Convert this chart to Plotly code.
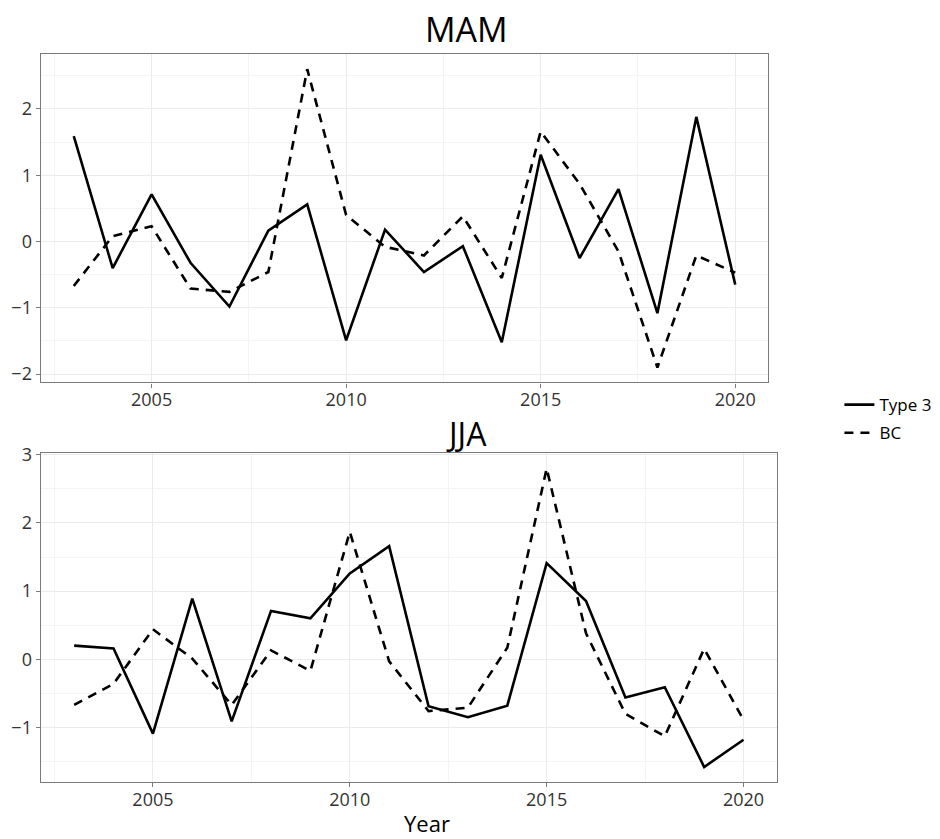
import plotly.graph_objects as go

years = list(range(2003, 2021))
mam_type3 = [1.59, -0.40, 0.71, -0.32, -0.98, 0.165, 0.56, -1.49, 0.18, -0.46,
             -0.07, -1.52, 1.31, -0.25, 0.79, -1.08, 1.88, -0.65]
mam_bc = [-0.67, 0.08, 0.23, -0.71, -0.76, -0.46, 2.60, 0.40, -0.08, -0.21,
          0.38, -0.55, 1.66, 0.87, -0.15, -1.90, -0.21, -0.47]
jja_type3 = [0.20, 0.16, -1.09, 0.89, -0.91, 0.71, 0.60, 1.26, 1.66, -0.69,
             -0.85, -0.68, 1.41, 0.855, -0.56, -0.41, -1.58, -1.18]
jja_bc = [-0.67, -0.36, 0.44, 0.01, -0.67, 0.13, -0.17, 1.87, -0.03, -0.76,
          -0.71, 0.17, 2.80, 0.38, -0.80, -1.13, 0.155, -0.89]
x_ticks = [2005, 2010, 2015, 2020]
mam_y_ticks = [-2, -1, 0, 1, 2]
jja_y_ticks = [-1, 0, 1, 2, 3]
series_names = ["Type 3", "BC"]
panel_titles = ["MAM", "JJA"]


def expand(vals, f=0.05):
    lo, hi = min(vals), max(vals)
    d = (hi - lo) * f
    return [lo - d, hi + d]


FONT = "Open Sans"
W, H = 940, 839
fig = go.Figure()

dash = "9px,7px"
fig.add_trace(go.Scatter(x=years, y=mam_type3, mode="lines", name=series_names[0],
                         line=dict(color="black", width=2.6), xaxis="x", yaxis="y",
                         legendgroup="a"))
fig.add_trace(go.Scatter(x=years, y=mam_bc, mode="lines", name=series_names[1],
                         line=dict(color="black", width=2.6, dash=dash), xaxis="x", yaxis="y",
                         legendgroup="b"))
fig.add_trace(go.Scatter(x=years, y=jja_type3, mode="lines", name=series_names[0],
                         line=dict(color="black", width=2.6), xaxis="x2", yaxis="y2",
                         legendgroup="a", showlegend=False))
fig.add_trace(go.Scatter(x=years, y=jja_bc, mode="lines", name=series_names[1],
                         line=dict(color="black", width=2.6, dash=dash), xaxis="x2", yaxis="y2",
                         legendgroup="b", showlegend=False))

axis_common = dict(
    showline=True, linecolor="#7a7a7a", linewidth=1.3, mirror=True,
    showgrid=True, gridcolor="#ebebeb", gridwidth=1.2,
    zeroline=False, ticks="outside", ticklen=4, tickcolor="#7a7a7a", tickwidth=1.2,
    tickfont=dict(family=FONT, size=18, color="#333333"),
)

xr = expand(years)
fig.update_layout(
    width=W, height=H,
    margin=dict(l=0, r=0, t=0, b=0),
    paper_bgcolor="white", plot_bgcolor="white",
    font=dict(family=FONT, color="black"),
    xaxis=dict(domain=[40.7 / W, 768.3 / W], range=xr, tickvals=x_ticks, anchor="y",
               ticklabelstandoff=-3,
               minor=dict(dtick=2.5, tick0=2000, showgrid=True, gridcolor="#f4f4f4", ticks=""),
               **axis_common),
    yaxis=dict(domain=[1 - 377.7 / H, 1 - 44 / H], range=expand(mam_type3 + mam_bc),
               tickvals=mam_y_ticks, anchor="x",
               minor=dict(dtick=0.5, tick0=0, showgrid=True, gridcolor="#f4f4f4", ticks=""),
               **axis_common),
    xaxis2=dict(domain=[40.7 / W, 777 / W], range=xr, tickvals=x_ticks, anchor="y2",
                ticklabelstandoff=-3,
                minor=dict(dtick=2.5, tick0=2000, showgrid=True, gridcolor="#f4f4f4", ticks=""),
                **axis_common),
    yaxis2=dict(domain=[1 - 784 / H, 1 - 450 / H], range=expand(jja_type3 + jja_bc),
                tickvals=jja_y_ticks, anchor="x2",
                minor=dict(dtick=0.5, tick0=0, showgrid=True, gridcolor="#f4f4f4", ticks=""),
                **axis_common),
    showlegend=True,
    legend=dict(x=0.893, y=1 - 415 / H, xanchor="left", yanchor="middle",
                font=dict(family=FONT, size=17, color="black"),
                itemwidth=30, bgcolor="rgba(0,0,0,0)", tracegroupgap=3),
    annotations=[
        dict(text=panel_titles[0], x=466 / W, y=1 - 18 / H, xref="paper", yref="paper",
             xanchor="center", yanchor="middle", showarrow=False,
             font=dict(family=FONT, size=34, color="black")),
        dict(text=panel_titles[1], x=466.5 / W, y=1 - 430 / H, xref="paper", yref="paper",
             xanchor="center", yanchor="middle", showarrow=False,
             font=dict(family=FONT, size=32, color="black")),
        dict(text="Year", x=426.5 / W, y=1 - 826 / H, xref="paper", yref="paper",
             xanchor="center", yanchor="middle", showarrow=False,
             font=dict(family=FONT, size=22, color="black")),
    ],
)

fig.write_html("out.html")
